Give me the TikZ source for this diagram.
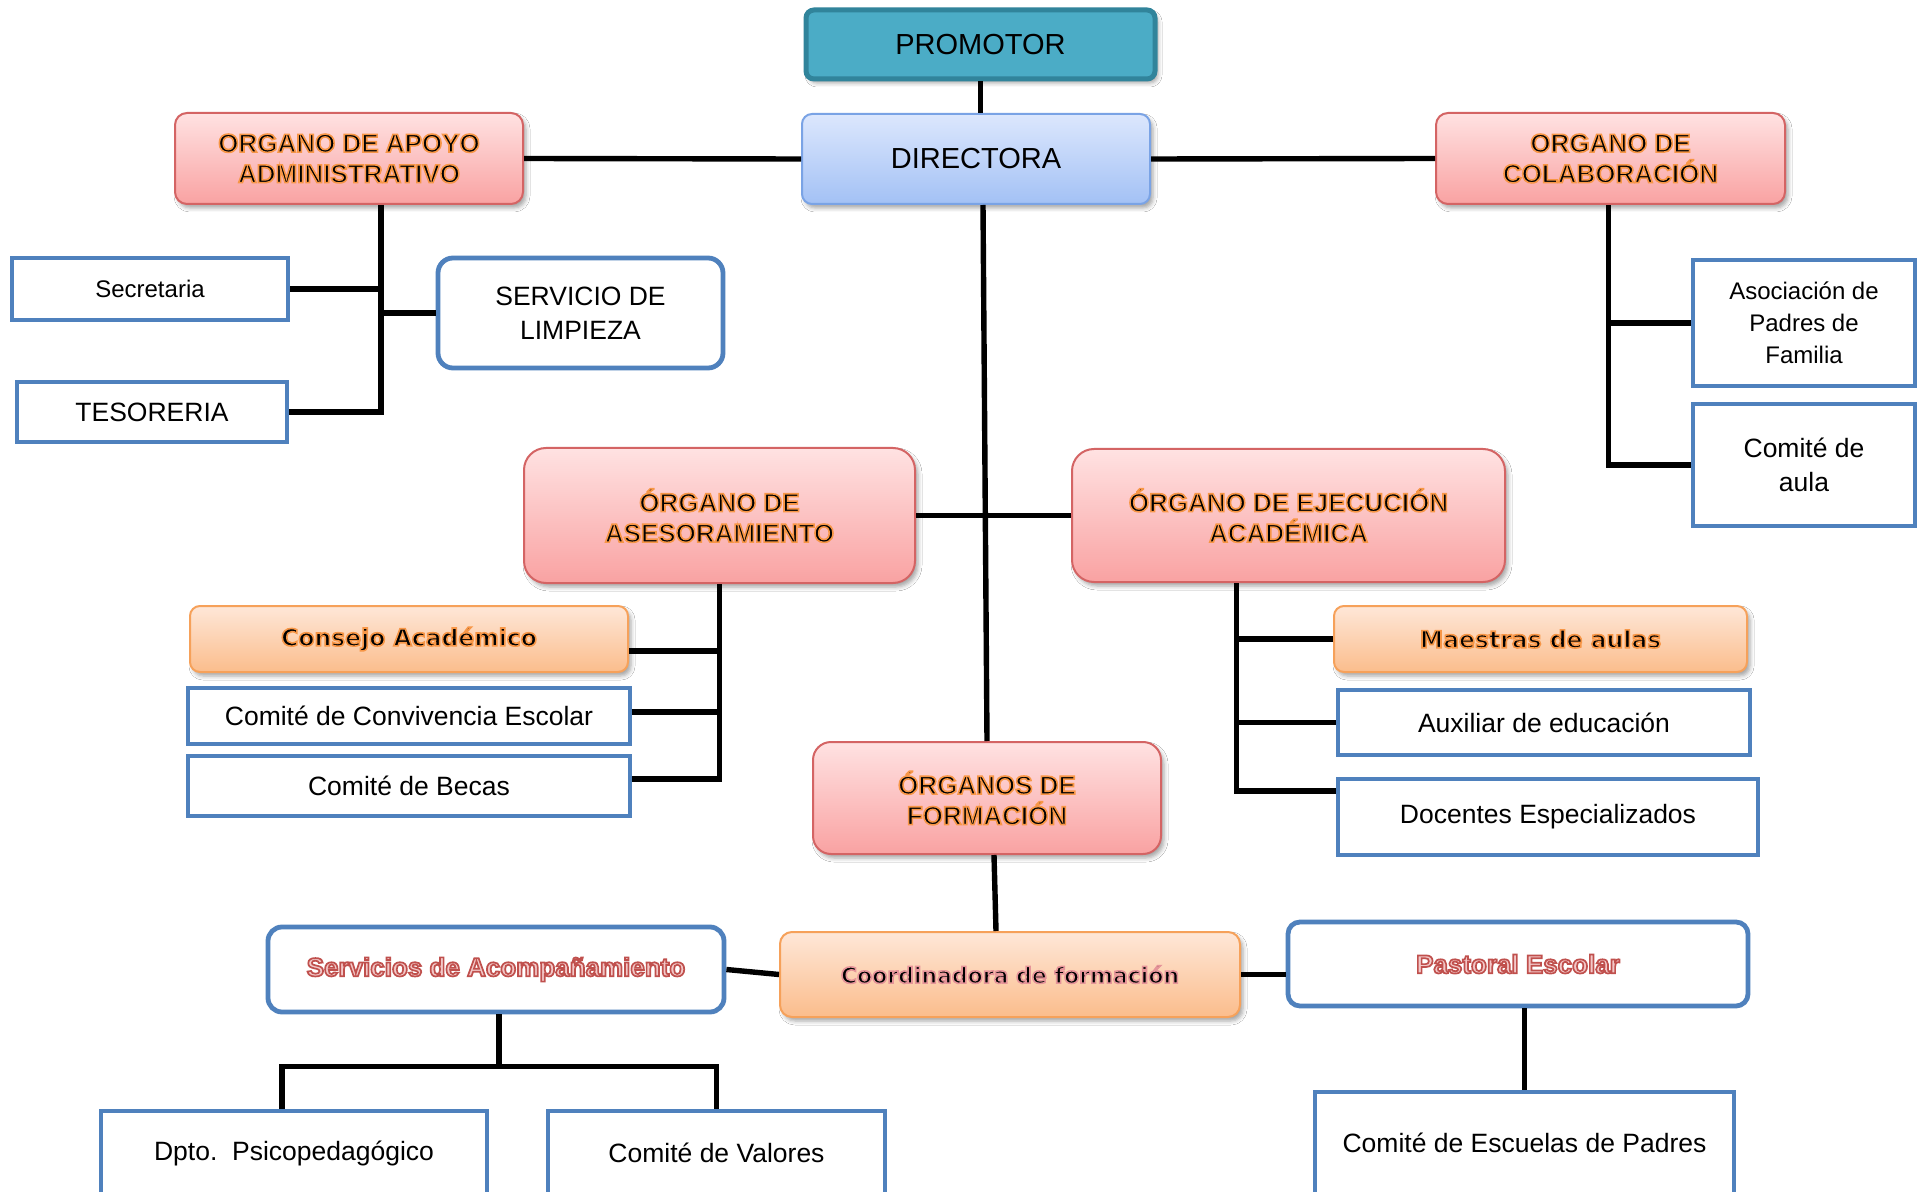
\documentclass[tikz,border=0pt]{standalone}
\usepackage{fontspec}
\setmainfont{Liberation Sans}
\newfontfamily\dejavu{DejaVu Sans}
\usetikzlibrary{calc,shadows.blur}
\definecolor{tealfill}{HTML}{4BACC6}
\definecolor{tealline}{HTML}{31849B}
\definecolor{dirtop}{HTML}{DCE7FD}
\definecolor{dirbot}{HTML}{A3C1F5}
\definecolor{dirline}{HTML}{7AA3E5}
\definecolor{orgtop}{HTML}{FFE2E2}
\definecolor{orgbot}{HTML}{F9A2A2}
\definecolor{orgline}{HTML}{D46464}
\definecolor{ortop}{HTML}{FEE7D8}
\definecolor{orbot}{HTML}{FBBD8C}
\definecolor{orline}{HTML}{F6A15A}
\definecolor{boxblue}{HTML}{4F81BD}
\definecolor{srvfill}{HTML}{F3C8C8}
\newcommand\glowon[2]{\special{pdf:literal #1 RG #2 w 2 Tr}}
\newcommand\glowoff{\special{pdf:literal 0 Tr}}
\newcommand\orglow[1]{\glowon{0.969 0.588 0.275}{0.8}#1\glowoff}
\newcommand\pinkglow[1]{\glowon{0.90 0.58 0.60}{0.8}#1\glowoff}
\newcommand\redline[1]{\glowon{0.753 0.314 0.302}{0.85}#1\glowoff}
\tikzset{
  conn/.style={line width=2.7pt, black},
  sz/.style 2 args={minimum width=#1*0.5pt, minimum height=#2*0.5pt},
  base/.style={inner sep=0pt, align=center, font=\fontsize{13.25pt}{16pt}\selectfont},
  shd/.style={blur shadow={shadow xshift=1.5pt, shadow yshift=-2pt, shadow blur radius=2pt, shadow opacity=35}},
  wbox/.style={base, draw=boxblue, line width=2.4pt, fill=white},
  organ/.style={base, shd, draw=orgline, line width=1pt, rounded corners=6pt,
    top color=orgtop, bottom color=orgbot, font=\bfseries\fontsize{13pt}{15.25pt}\selectfont},
  obox/.style={base, shd, draw=orline, line width=1pt, rounded corners=5pt,
    top color=ortop, bottom color=orbot, font=\dejavu\bfseries\fontsize{11.75pt}{14pt}\selectfont},
  tealbox/.style={base, shd, draw=tealline, fill=tealfill, line width=2.5pt, rounded corners=4pt,
    font=\fontsize{14.5pt}{17pt}\selectfont},
  dirbox/.style={base, shd, draw=dirline, line width=1pt, rounded corners=5pt,
    top color=dirtop, bottom color=dirbot, font=\fontsize{14.5pt}{17pt}\selectfont},
}
\begin{document}
\begin{tikzpicture}[x=0.5pt,y=-0.5pt]
\useasboundingbox (0,0) rectangle (1917,1192);
\fill[white] (0,0) rectangle (1917,1192);
\clip (0,0) rectangle (1917,1192);

% top level
\node[tealbox, sz={349}{69}] (prom) at (980.5,44.5) {PROMOTOR};
\node[dirbox, sz={348}{90}] (dir) at (976,159) {DIRECTORA};
\node[organ, sz={348}{91}] (apoyo) at (349,158.5) {\orglow{ORGANO DE APOYO\\ADMINISTRATIVO}};
\node[organ, sz={349}{91}] (colab) at (1610.5,158.5) {\orglow{ORGANO DE\\COLABORACIÓN}};

% apoyo administrativo
\node[wbox, sz={276}{62}, font=\fontsize{12pt}{14pt}\selectfont] (secr) at (150,289) {Secretaria};
\node[wbox, sz={270}{60}] (teso) at (152,412) {TESORERIA};
\node[wbox, rounded corners=7.5pt, sz={285}{110}, font=\fontsize{13.25pt}{17pt}\selectfont] (limp) at (580.5,313) {SERVICIO DE\\LIMPIEZA};

% colaboracion
\node[wbox, sz={222}{126}, font=\fontsize{12pt}{16pt}\selectfont] (asoc) at (1804,323) {Asociación de\\Padres de\\Familia};
\node[wbox, sz={222}{122}, font=\fontsize{13.25pt}{17pt}\selectfont] (aula) at (1804,465) {Comité de\\aula};

% middle organs
\node[organ, rounded corners=11pt, sz={391}{135}] (ases) at (719.5,515.5) {\orglow{ÓRGANO DE\\ASESORAMIENTO}};
\node[organ, rounded corners=11pt, sz={433}{133}] (ejec) at (1288.5,515.5) {\orglow{ÓRGANO DE EJECUCIÓN\\ACADÉMICA}};

\node[obox, sz={438}{66}] (cons) at (409,639) {\orglow{Consejo Académico}};
\node[wbox, sz={442}{56}] (conv) at (409,716) {Comité de Convivencia Escolar};
\node[wbox, sz={442}{60}] (becas) at (409,786) {Comité de Becas};

\node[obox, sz={413}{66}] (maes) at (1540.5,639) {\orglow{Maestras de aulas}};
\node[wbox, sz={412}{65}] (aux) at (1544,722.5) {Auxiliar de educación};
\node[wbox, sz={420}{76}] (doc) at (1548,817) {Docentes Especializados};

% formacion
\node[organ, rounded corners=9pt, sz={348}{112}] (form) at (987,798) {\orglow{ÓRGANOS DE\\FORMACIÓN}};
\node[obox, rounded corners=6pt, sz={460}{85}, font=\dejavu\bfseries\fontsize{11pt}{13pt}\selectfont] (coord) at (1010,974.5) {\pinkglow{Coordinadora de formación}};
\node[wbox, rounded corners=7pt, sz={456}{85}, text=srvfill, font=\bfseries\fontsize{13pt}{15pt}\selectfont] (serv) at (496,969.5) {\redline{Servicios de Acompañamiento}};
\node[wbox, rounded corners=6pt, sz={460}{84}, text=srvfill, font=\bfseries\fontsize{13pt}{15pt}\selectfont] (past) at (1518,964) {\redline{Pastoral Escolar}};
\node[wbox, sz={419}{102}] (escu) at (1524.5,1143) {Comité de Escuelas de Padres};
\node[wbox, sz={386}{84}] (dpto) at (294,1153) {Dpto.\ \ Psicopedagógico};
\node[wbox, sz={337}{84}] (valo) at (716.5,1153) {Comité de Valores};

% connectors
\draw[conn] (prom.south) -- (prom.south |- dir.north);
\draw[conn] (apoyo.east) -- (dir.west);
\draw[conn] (dir.east) -- (colab.west);
\draw[conn] ($(dir.south)+(7,0)$) -- (form.north);
\draw[conn] (ases.east) -- (ejec.west);

\coordinate (apT) at ($(apoyo.south)+(32,0)$);
\draw[conn] (apT) |- (teso.east);
\draw[conn] (secr.east) -- (secr.east -| apT);
\draw[conn] (limp.west) -- (limp.west -| apT);

\coordinate (coT) at ($(colab.south)+(-2,0)$);
\draw[conn] (coT) |- (aula.west);
\draw[conn] (asoc.west) -- (asoc.west -| coT);

\coordinate (asB) at ($(becas.east)+(0,-7)$);
\coordinate (csE) at ($(cons.east)+(0,12)$);
\coordinate (cvE) at ($(conv.east)+(0,-4)$);
\draw[conn] (ases.south) |- (asB);
\draw[conn] (csE) -- (csE -| ases.south);
\draw[conn] (cvE) -- (cvE -| ases.south);

\coordinate (ejT) at ($(ejec.south)+(-52,0)$);
\coordinate (dcW) at ($(doc.west)+(0,-26)$);
\draw[conn] (ejT) |- (dcW);
\draw[conn] (maes.west) -- (maes.west -| ejT);
\draw[conn] (aux.west) -- (aux.west -| ejT);

\draw[conn] ($(form.south)+(7,0)$) -- ($(coord.north)+(-14,0)$);
\draw[conn] (serv.east) -- (coord.west);
\draw[conn] (coord.east) -- (coord.east -| past.west);
\draw[conn] (past.south -| escu.north) -- (escu.north);

\coordinate (svJ) at ($(serv.south)+(3,52)$);
\coordinate (dpN) at ($(dpto.north)+(-12,0)$);
\draw[conn] ($(serv.south)+(3,0)$) -- (svJ);
\draw[conn] (dpN) |- (valo.north |- svJ) -- (valo.north);
\end{tikzpicture}
\end{document}
